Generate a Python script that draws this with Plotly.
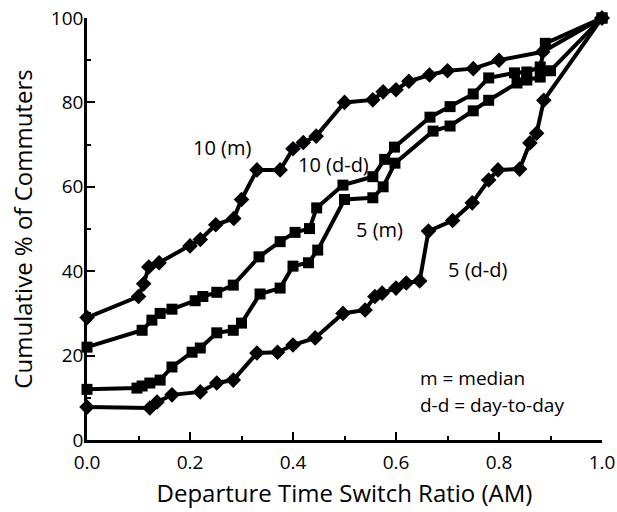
import plotly.graph_objects as go

# 10 (m) - diamonds
x_10m = [0.0, 0.10, 0.11, 0.12, 0.14, 0.20, 0.22, 0.25, 0.285, 0.30, 0.33, 0.375, 0.40, 0.42, 0.445, 0.50,
         0.555, 0.575, 0.60, 0.625, 0.665, 0.70, 0.75, 0.80, 0.885, 1.0]
y_10m = [29, 34, 37, 41, 42, 46, 47.5, 51, 52.5, 57, 64, 64, 69, 70.5, 72, 80,
         80.6, 82.5, 83, 85, 86.5, 87.5, 88, 90, 92, 100]

# 10 (d-d) - squares
x_10dd = [0.0, 0.107, 0.126, 0.142, 0.165, 0.21, 0.225, 0.252, 0.284, 0.334, 0.375, 0.404, 0.432, 0.446,
          0.497, 0.555, 0.578, 0.597, 0.666, 0.705, 0.75, 0.78, 0.83, 0.854, 0.88, 0.89, 1.0]
y_10dd = [22, 26, 28.4, 30, 31, 33, 34, 35, 36.7, 43.4, 47, 49.2, 50.1, 55,
          60.4, 62.4, 66.5, 69.4, 76.5, 79, 82, 85.8, 87, 87.2, 88.4, 94, 100]

# 5 (m) - squares
x_5m = [0.0, 0.097, 0.107, 0.122, 0.142, 0.165, 0.204, 0.22, 0.252, 0.284, 0.30, 0.336, 0.375, 0.40,
        0.43, 0.448, 0.50, 0.555, 0.575, 0.598, 0.672, 0.705, 0.75, 0.78, 0.835, 0.854, 0.88, 0.90, 1.0]
y_5m = [12, 12.3, 12.8, 13.5, 14.2, 17.3, 20.8, 21.8, 25.4, 26, 27.7, 34.6, 36, 41.2,
        42, 45, 57, 57.4, 60, 65.6, 73.2, 74.4, 78, 80.5, 84.6, 85.3, 86, 87.5, 100]

# 5 (d-d) - diamonds
x_5dd = [0.0, 0.122, 0.136, 0.165, 0.22, 0.252, 0.284, 0.33, 0.37, 0.40, 0.443, 0.497, 0.54, 0.559,
         0.573, 0.60, 0.62, 0.646, 0.663, 0.71, 0.748, 0.78, 0.798, 0.84, 0.86, 0.873, 0.887, 1.0]
y_5dd = [7.8, 7.6, 9, 10.7, 11.4, 13.5, 14.2, 20.6, 20.8, 22.5, 24.2, 30, 30.8, 34,
         34.8, 36, 37.2, 37.7, 49.5, 52, 56.2, 61.6, 64, 64.2, 70.4, 72.7, 80.5, 100]

x_ticks = [0.0, 0.2, 0.4, 0.6, 0.8, 1.0]
x_ticklabels = ["0.0", "0.2", "0.4", "0.6", "0.8", "1.0"]
y_ticks = [0, 20, 40, 60, 80, 100]

FONT = "Open Sans"

fig = go.Figure()

series = [
    (x_10m, y_10m, "diamond", "10 (m)"),
    (x_10dd, y_10dd, "square", "10 (d-d)"),
    (x_5m, y_5m, "square", "5 (m)"),
    (x_5dd, y_5dd, "diamond", "5 (d-d)"),
]
for xs, ys, sym, name in series:
    fig.add_trace(go.Scatter(
        x=xs, y=ys, mode="lines+markers", name=name,
        line=dict(color="black", width=4),
        marker=dict(symbol=sym, size=11 if sym == "square" else 12, color="black"),
        cliponaxis=False, showlegend=False,
    ))

annots = [
    (0.262, 69.2, "10 (m)"),
    (0.478, 65.4, "10 (d-d)"),
    (0.567, 49.8, "5 (m)"),
    (0.759, 40.3, "5 (d-d)"),
]
for ax, ay, txt in annots:
    fig.add_annotation(x=ax, y=ay, text=txt, showarrow=False, xanchor="center", yanchor="middle",
                       font=dict(family=FONT, size=20, color="black"))

fig.add_annotation(x=0.643, y=14.7, text="m = median", showarrow=False, xanchor="left", yanchor="middle",
                   font=dict(family=FONT, size=19, color="black"))
fig.add_annotation(x=0.643, y=8.3, text="d-d = day-to-day", showarrow=False, xanchor="left", yanchor="middle",
                   font=dict(family=FONT, size=19, color="black"))

fig.update_layout(
    width=617, height=512,
    margin=dict(l=87, r=15, t=18, b=72, autoexpand=False),
    paper_bgcolor="white", plot_bgcolor="white",
    font=dict(family=FONT, color="black"),
    xaxis=dict(
        range=[0, 1], tickvals=x_ticks, ticktext=x_ticklabels, automargin=False,
        ticks="inside", ticklen=8, tickwidth=2, tickcolor="black",
        minor=dict(ticks="inside", ticklen=4, tickwidth=2, dtick=0.1, tickcolor="black"),
        showline=True, linecolor="black", linewidth=2.5, showgrid=False, zeroline=False,
        tickfont=dict(family=FONT, size=19, color="black"),
        ticklabelstandoff=3,
        title=dict(text="Departure Time Switch Ratio (AM)", font=dict(family=FONT, size=24, color="black"),
                   standoff=12),
    ),
    yaxis=dict(
        range=[0, 100], tickvals=y_ticks, automargin=False,
        ticks="inside", ticklen=8, tickwidth=2, tickcolor="black",
        minor=dict(ticks="inside", ticklen=4, tickwidth=2, dtick=10, tickcolor="black"),
        showline=True, linecolor="black", linewidth=2.5, showgrid=False, zeroline=False,
        tickfont=dict(family=FONT, size=19, color="black"),
        ticklabelstandoff=-3,
        title=dict(text="Cumulative % of Commuters", font=dict(family=FONT, size=24, color="black"),
                   standoff=12),
    ),
)

fig.write_html("out.html", config={"displayModeBar": False},
               post_script="document.body.style.margin='0px';")
